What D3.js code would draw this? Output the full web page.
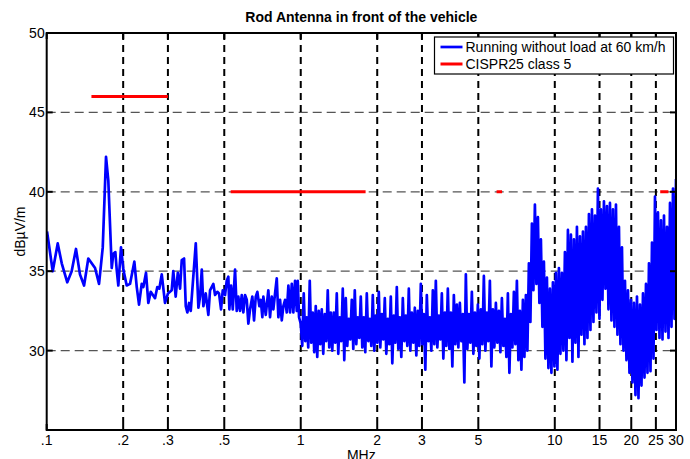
<!DOCTYPE html>
<html><head><meta charset="utf-8">
<script src="https://cdn.jsdelivr.net/npm/d3@7"></script>
<style>
body{margin:0;background:#fff}
text{font-family:"Liberation Sans",Arial,Helvetica,sans-serif;fill:#000}
</style>
</head><body>
<svg id="chart" width="690" height="459"></svg>
<script>
const title = "Rod Antenna in front of the vehicle";
const xLabel = "MHz";
const yLabel = "dBµV/m";
const xTicks = [0.1,0.2,0.3,0.5,1,2,3,5,10,15,20,25,30];
const xTickLabels = [".1",".2",".3",".5","1","2","3","5","10","15","20","25","30"];
const yTicks = [30,35,40,45,50];
const seriesNames = ["Running without load at 60 km/h","CISPR25 class 5"];

// measured trace, 0.1 - 1 MHz (individual points)
const lowFreqMHz = [0.1003,0.1056,0.1105,0.1146,0.1205,0.1254,0.1304,0.1352,0.1403,0.1458,
0.1550,0.1607,0.1662,0.1712,0.1748,0.1803,0.1829,0.1863,0.1886,0.1914,
0.1961,0.2003,0.2065,0.2128,0.2213,0.2262,0.2309,0.2366,0.2401,0.2460,
0.2512,0.2567,0.2669,0.2725,0.2775,0.2837,0.2922,0.3003,0.3105,0.3150,
0.3219,0.3281,0.3349,0.3401,0.3473,0.3527,0.3578,0.3634,0.3690,0.3758,
0.3862,0.3955,0.4015,0.4078,0.4137,0.4227,0.4328,0.4395,0.4529,0.4599,
0.4696,0.4768,0.4856,0.4931,0.5035,0.5113,0.5188,0.5236,0.5317,0.5400,
0.5513,0.5598,0.5680,0.5768,0.5858,0.5943,0.6036,0.6130,0.6220,0.6316,
0.6449,0.6549,0.6651,0.6749,0.6871,0.6960,0.7061,0.7126,0.7282,0.7455,
0.7571,0.7689,0.7802,0.7923,0.8046,0.8164,0.8291,0.8420,0.8543,0.8677,
0.8812,0.8941,0.9078,0.9220,0.9352,0.9497,0.9645,0.9732,0.9847];
const lowLevel = [37.5,35.0,36.75,35.5,34.3,35.0,36.4,34.8,34.1,35.8,
35.2,34.2,36.5,42.2,40.7,35.2,36.1,36.2,35.1,34.1,
36.5,35.1,34.1,34.2,35.6,34.0,32.9,34.2,34.0,34.9,
33.0,33.7,33.3,34.0,33.9,34.8,33.0,33.6,33.8,35.0,
33.4,34.9,33.9,35.7,35.8,32.8,32.4,33.0,32.5,34.2,
36.75,32.7,33.4,35.1,32.8,33.6,32.25,33.8,34.2,33.5,
33.7,33.6,32.6,33.8,33.5,34.4,34.65,32.6,34.1,32.6,
35.1,32.5,33.4,32.5,33.5,32.4,33.5,33.2,31.7,32.6,
33.4,31.9,33.4,33.7,32.8,33.2,32.1,33.4,32.25,33.8,
32.1,33.4,32.6,33.6,34.55,32.1,33.2,31.9,32.8,33.2,
32.4,34.1,32.4,34.2,32.4,34.4,32.5,34.4,32.1];

// measured trace, 1 - 30 MHz: receiver sweep on a log frequency grid
const sweepStartMHz = 1, sweepStopMHz = 30;
const sweepLevel = [
31.7,30.3,33.6,30.6,32.1,30.2,34.4,30.5,32.4,29.9,
32.8,29.6,32.5,30.4,32.6,29.8,32.3,30.6,33.8,30.2,
32.4,30.0,32.4,30.5,33.6,29.8,32.1,30.6,33.9,29.4,
33.3,30.3,32.0,30.7,33.2,30.1,33.8,30.4,32.1,30.8,
33.4,30.2,32.1,29.9,33.6,30.6,32.0,30.3,33.5,30.0,
32.2,30.5,33.7,30.2,32.3,30.7,33.3,29.8,32.0,30.4,
33.4,29.2,32.2,30.5,34.0,30.1,32.1,29.6,33.3,30.6,
32.2,30.3,33.9,30.0,32.4,30.5,32.7,29.7,32.5,30.3,
34.2,30.4,32.3,28.8,33.5,30.6,32.1,30.0,33.8,30.4,
34.4,30.2,32.2,30.7,33.6,29.5,32.4,30.3,33.9,30.1,
32.4,29.0,33.5,30.4,32.9,30.2,33.0,30.6,32.3,28.0,
34.8,30.1,32.3,30.5,33.7,29.8,32.4,30.3,32.9,29.5,
32.6,30.4,34.7,30.0,32.4,30.6,34.4,29.0,32.6,30.2,
33.0,30.5,32.5,29.9,33.3,30.3,32.0,29.6,33.6,28.6,
32.3,30.2,33.7,30.4,34.4,29.4,32.5,28.8,33.2,29.6,
33.5,30.0,35.5,31.8,38.0,33.8,39.2,34.2,38.4,33.0,
37.0,31.5,35.6,29.5,34.6,28.9,33.9,28.6,34.3,29.0,
34.9,28.8,35.2,29.8,34.9,30.0,36.2,29.4,37.6,30.8,
37.3,29.3,37.0,30.5,37.8,29.6,37.2,31.0,37.5,30.4,
37.8,30.8,38.6,31.3,38.9,31.8,38.5,32.4,40.2,32.0,
38.9,33.2,39.4,33.9,39.1,32.6,39.3,31.9,38.9,31.5,
39.2,31.0,37.8,30.4,36.5,30.0,34.4,29.4,33.8,28.6,
33.2,28.0,33.0,27.2,33.4,27.0,32.9,27.8,33.6,28.3,
34.2,28.6,35.5,28.7,36.8,29.5,39.7,31.3,38.7,30.8,
38.2,30.7,38.5,31.2,37.8,30.8,39.3,31.5,40.2,32.0,40.8];

// CISPR25 class 5 limits: [start MHz, stop MHz, dBµV/m]
const limitStartMHz = [0.15,0.53,5.9,26];
const limitStopMHz  = [0.3,1.8,6.2,28];
const limitLevel    = [46,40,40,40];

// ---------- drawing ----------
const L = 46.7, R = 676, T = 33, B = 430;
const svg = d3.select("#chart");
const x = d3.scaleLog().domain([0.1,30]).range([L,R]);
const y = d3.scaleLinear().domain([25,50]).range([B,T]);

const trace = lowFreqMHz.map((f,i)=>({f, v: lowLevel[i]}));
const n = sweepLevel.length;
sweepLevel.forEach((v,i)=>{
  const f = sweepStartMHz * Math.pow(sweepStopMHz/sweepStartMHz, i/(n-1));
  trace.push({f, v});
});

svg.append("defs").append("clipPath").attr("id","clip")
  .append("rect").attr("x",L).attr("y",T).attr("width",R-L).attr("height",B-T);

// grid
const grid = svg.append("g");
grid.selectAll("line.h").data(yTicks.filter(t=>t<50)).enter().append("line")
  .attr("x1",L).attr("x2",R).attr("y1",d=>y(d)).attr("y2",d=>y(d))
  .attr("stroke","#555").attr("stroke-width",1.3).attr("stroke-dasharray","9,5");
grid.selectAll("line.v").data(xTicks.filter(t=>t>0.1&&t<30)).enter().append("line")
  .attr("x1",d=>x(d)).attr("x2",d=>x(d)).attr("y1",T).attr("y2",B)
  .attr("stroke","#000").attr("stroke-width",2).attr("stroke-dasharray","7,5");

// data
const plot = svg.append("g").attr("clip-path","url(#clip)");
const line = d3.line().x(d=>x(d.f)).y(d=>y(d.v));
plot.append("path").datum(trace).attr("d",line)
  .attr("fill","none").attr("stroke","#0000ff").attr("stroke-width",2.7).attr("stroke-linejoin","round");
plot.selectAll("line.lim").data(limitLevel).enter().append("line")
  .attr("x1",(d,i)=>x(limitStartMHz[i])).attr("x2",(d,i)=>x(limitStopMHz[i]))
  .attr("y1",d=>y(d)).attr("y2",d=>y(d))
  .attr("stroke","#ff0000").attr("stroke-width",3);

// axes box + inward ticks
const ax = svg.append("g");
ax.append("rect").attr("x",L).attr("y",T).attr("width",R-L).attr("height",B-T)
  .attr("fill","none").attr("stroke","#000").attr("stroke-width",2);
const tl = 6;
xTicks.forEach(t=>{
  ax.append("line").attr("x1",x(t)).attr("x2",x(t)).attr("y1",B).attr("y2",B-tl).attr("stroke","#000").attr("stroke-width",2);
  ax.append("line").attr("x1",x(t)).attr("x2",x(t)).attr("y1",T).attr("y2",T+tl).attr("stroke","#000").attr("stroke-width",2);
});
yTicks.forEach(t=>{
  ax.append("line").attr("x1",L).attr("x2",L+tl).attr("y1",y(t)).attr("y2",y(t)).attr("stroke","#000").attr("stroke-width",2);
  ax.append("line").attr("x1",R).attr("x2",R-tl).attr("y1",y(t)).attr("y2",y(t)).attr("stroke","#000").attr("stroke-width",2);
});
ax.selectAll("text.xt").data(xTicks).enter().append("text")
  .attr("x",d=>x(d)).attr("y",445).attr("text-anchor","middle").attr("font-size",14)
  .text((d,i)=>xTickLabels[i]);
ax.selectAll("text.yt").data(yTicks).enter().append("text")
  .attr("x",L-2).attr("y",d=>y(d)+5).attr("text-anchor","end").attr("font-size",14)
  .text(d=>d);

svg.append("text").attr("x",(L+R)/2).attr("y",22).attr("text-anchor","middle")
  .attr("font-size",14).attr("font-weight","bold").text(title);
svg.append("text").attr("x",(L+R)/2).attr("y",460).attr("text-anchor","middle")
  .attr("font-size",14).text(xLabel);
svg.append("text").attr("transform",`translate(25,${(T+B)/2}) rotate(-90)`)
  .attr("text-anchor","middle").attr("font-size",14).text(yLabel);

// legend
const lg = svg.append("g");
lg.append("rect").attr("x",434.5).attr("y",37).attr("width",239).attr("height",37)
  .attr("fill","#fff").attr("stroke","#000").attr("stroke-width",1.2);
const colors = ["#0000ff","#ff0000"];
seriesNames.forEach((s,i)=>{
  const yy = 47 + i*17;
  lg.append("line").attr("x1",440.5).attr("x2",462.5).attr("y1",yy).attr("y2",yy)
    .attr("stroke",colors[i]).attr("stroke-width",i?3:2.7);
  lg.append("text").attr("x",465.5).attr("y",yy+5).attr("font-size",14).text(s);
});
</script>
</body></html>
